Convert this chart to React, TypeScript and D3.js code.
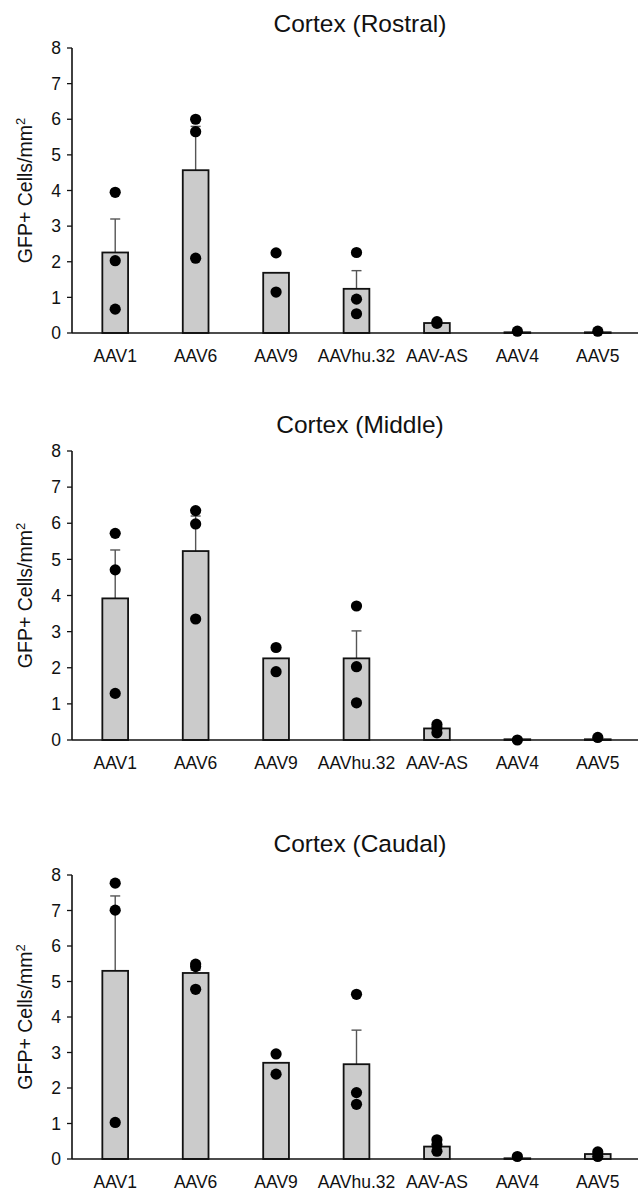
import { scaleBand, scaleLinear, range } from "d3";

const width = 638;
const height = 1191;

// serotypes along the x axis
const categories = ["AAV1", "AAV6", "AAV9", "AAVhu.32", "AAV-AS", "AAV4", "AAV5"];
const yTicks = [0, 1, 2, 3, 4, 5, 6, 7, 8];

// Cortex (Rostral)
const rostralMeans = [2.26, 4.57, 1.69, 1.24, 0.28, 0.02, 0.02];
const rostralErrors = [0.94, 1.23, 0, 0.51, 0.03, 0.01, 0.01];
const rostralPoints = [
  [3.95, 2.03, 0.67],
  [6.0, 5.65, 2.1],
  [2.25, 1.15],
  [2.26, 0.95, 0.54],
  [0.32, 0.27],
  [0.05],
  [0.05],
];

// Cortex (Middle)
const middleMeans = [3.92, 5.23, 2.26, 2.26, 0.32, 0.02, 0.02];
const middleErrors = [1.34, 0.97, 0, 0.76, 0.06, 0.01, 0.02];
const middlePoints = [
  [5.72, 4.71, 1.29],
  [6.35, 5.98, 3.35],
  [2.56, 1.89],
  [3.71, 2.03, 1.03],
  [0.43, 0.33, 0.2],
  [0.0],
  [0.07],
];

// Cortex (Caudal)
const caudalMeans = [5.3, 5.24, 2.71, 2.67, 0.35, 0.02, 0.14];
const caudalErrors = [2.11, 0.08, 0, 0.96, 0.09, 0.01, 0.05];
const caudalPoints = [
  [7.77, 7.01, 1.03],
  [5.49, 5.42, 4.78],
  [2.96, 2.39],
  [4.64, 1.87, 1.54],
  [0.54, 0.4, 0.22],
  [0.07],
  [0.2, 0.07],
];

const panels = [
  { title: "Cortex (Rostral)", means: rostralMeans, errors: rostralErrors, points: rostralPoints, top: 48, bottom: 333, titleY: 32 },
  { title: "Cortex (Middle)", means: middleMeans, errors: middleErrors, points: middlePoints, top: 451, bottom: 740, titleY: 433 },
  { title: "Cortex (Caudal)", means: caudalMeans, errors: caudalErrors, points: caudalPoints, top: 875, bottom: 1159, titleY: 852 },
];

const font = "'Liberation Sans', Arial, sans-serif";
const axisX = 72;

const x = scaleBand().domain(categories).range([75, 638]).paddingInner(0.68).paddingOuter(0.34);

const Panel = ({ p }) => {
  const y = scaleLinear().domain([0, 8]).range([p.bottom, p.top]);
  const bw = x.bandwidth();
  const mid = (p.top + p.bottom) / 2;
  return (
    <g>
      <text x={360} y={p.titleY} textAnchor="middle" fontSize={24.5} fontFamily={font} fill="#111">
        {p.title}
      </text>
      <text
        transform={`translate(32,${mid}) rotate(-90)`}
        textAnchor="middle"
        fontSize={19.5}
        fontFamily={font}
        fill="#111"
      >
        GFP+ Cells/mm
        <tspan fontSize={13} dy={-7}>2</tspan>
      </text>
      {yTicks.map((t) => (
        <g key={t}>
          <line x1={axisX - 5} x2={axisX} y1={y(t)} y2={y(t)} stroke="#111" strokeWidth={1.3} />
          <text x={61} y={y(t)} dy="0.35em" textAnchor="end" fontSize={17.5} fontFamily={font} fill="#111">
            {t}
          </text>
        </g>
      ))}
      {categories.map((c, i) => {
        const cx = x(c) + bw / 2;
        const top = y(p.means[i] + p.errors[i]);
        return (
          <g key={c}>
            {p.errors[i] > 0 && (
              <g>
                <line x1={cx} x2={cx} y1={y(p.means[i])} y2={top} stroke="#555" strokeWidth={1.4} />
                <line x1={cx - 5} x2={cx + 5} y1={top} y2={top} stroke="#555" strokeWidth={1.4} />
              </g>
            )}
            <rect
              x={x(c)}
              y={y(p.means[i])}
              width={bw}
              height={y(0) - y(p.means[i])}
              fill="#cbcbcb"
              stroke="#111"
              strokeWidth={1.8}
            />
            <text x={cx} y={p.bottom + 29} textAnchor="middle" fontSize={17.5} fontFamily={font} fill="#111">
              {c}
            </text>
          </g>
        );
      })}
      <line x1={axisX} x2={axisX} y1={p.top} y2={p.bottom} stroke="#111" strokeWidth={1.6} />
      <line x1={axisX} x2={638} y1={p.bottom} y2={p.bottom} stroke="#111" strokeWidth={1.6} />
      {categories.map((c, i) =>
        range(p.points[i].length).map((k) => (
          <circle key={c + k} cx={x(c) + bw / 2} cy={y(p.points[i][k])} r={5.6} fill="#000" />
        ))
      )}
    </g>
  );
};

export default function App() {
  return (
    <div style={{ position: "absolute", left: 0, top: 0, background: "#fff" }}>
      <svg width={width} height={height} style={{ display: "block" }}>
        <rect width={width} height={height} fill="#fff" />
        {panels.map((p) => (
          <Panel key={p.title} p={p} />
        ))}
      </svg>
    </div>
  );
}
